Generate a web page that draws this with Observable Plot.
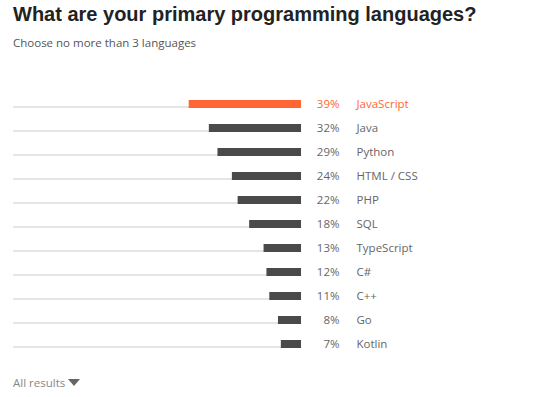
<!DOCTYPE html>
<html><head><meta charset="utf-8">
<script src="https://cdn.jsdelivr.net/npm/d3@7"></script>
<script src="https://cdn.jsdelivr.net/npm/@observablehq/plot@0.6"></script>
<style>
body{margin:0;background:#fff;font-family:"Open Sans","Noto Sans",sans-serif;}
#wrap{position:relative;width:541px;height:397px;overflow:hidden;}
#title{position:absolute;left:13px;top:3px;font:bold 20px "Liberation Sans",Arial,sans-serif;color:#222;white-space:nowrap;}
#sub{position:absolute;left:13px;top:35px;font-size:11.5px;color:#555;white-space:nowrap;}
#chart{position:absolute;left:0;top:91px;}
#more{position:absolute;left:13px;top:375px;font-size:11.5px;color:#888;}
#more span{display:inline-block;width:0;height:0;border-left:6px solid transparent;border-right:6px solid transparent;border-top:7px solid #666;margin-left:3px;vertical-align:1px;}
</style></head>
<body><div id="wrap">
<div id="title">What are your primary programming languages?</div>
<div id="sub">Choose no more than 3 languages</div>
<div id="chart"></div>
<div id="more">All results<span></span></div>
</div>
<script>
const languages = ["JavaScript","Java","Python","HTML / CSS","PHP","SQL","TypeScript","C#","C++","Go","Kotlin"];
const shares = [39,32,29,24,22,18,13,12,11,8,7];
const highlight = "JavaScript";
const data = languages.map((l,i)=>({lang:l,value:shares[i]}));
const colorOf = d => d.lang === highlight ? "#ff6633" : "#4a4a4a";
const textColorOf = d => d.lang === highlight ? "#ff6633" : "#666";
const chart = Plot.plot({
  width: 541, height: 264,
  marginTop: 0, marginBottom: 0, marginLeft: 13, marginRight: 240,
  x: {domain:[0,100], range:[301,13], axis:null},
  y: {domain: languages, padding: 0, axis:null},
  style: {fontFamily:'"Open Sans","Noto Sans",sans-serif', fontSize:"11.5px", background:"#fff"},
  marks: [
    Plot.rectX(data, {y:"lang", x1:0, x2:100, fill:"#cccccc", insetTop:15.5, insetBottom:7.5}),
    Plot.rectX(data, {y:"lang", x1:0, x2:"value", fill:colorOf, insetTop:9, insetBottom:7}),
    Plot.text(data, {y:"lang", x:0, text:d=>d.value+"%", dx:38, dy:1, textAnchor:"end", fill:textColorOf}),
    Plot.text(data, {y:"lang", x:0, text:"lang", dx:55, dy:1, textAnchor:"start", fill:textColorOf})
  ]
});
document.getElementById("chart").appendChild(chart);
</script>
</body></html>
